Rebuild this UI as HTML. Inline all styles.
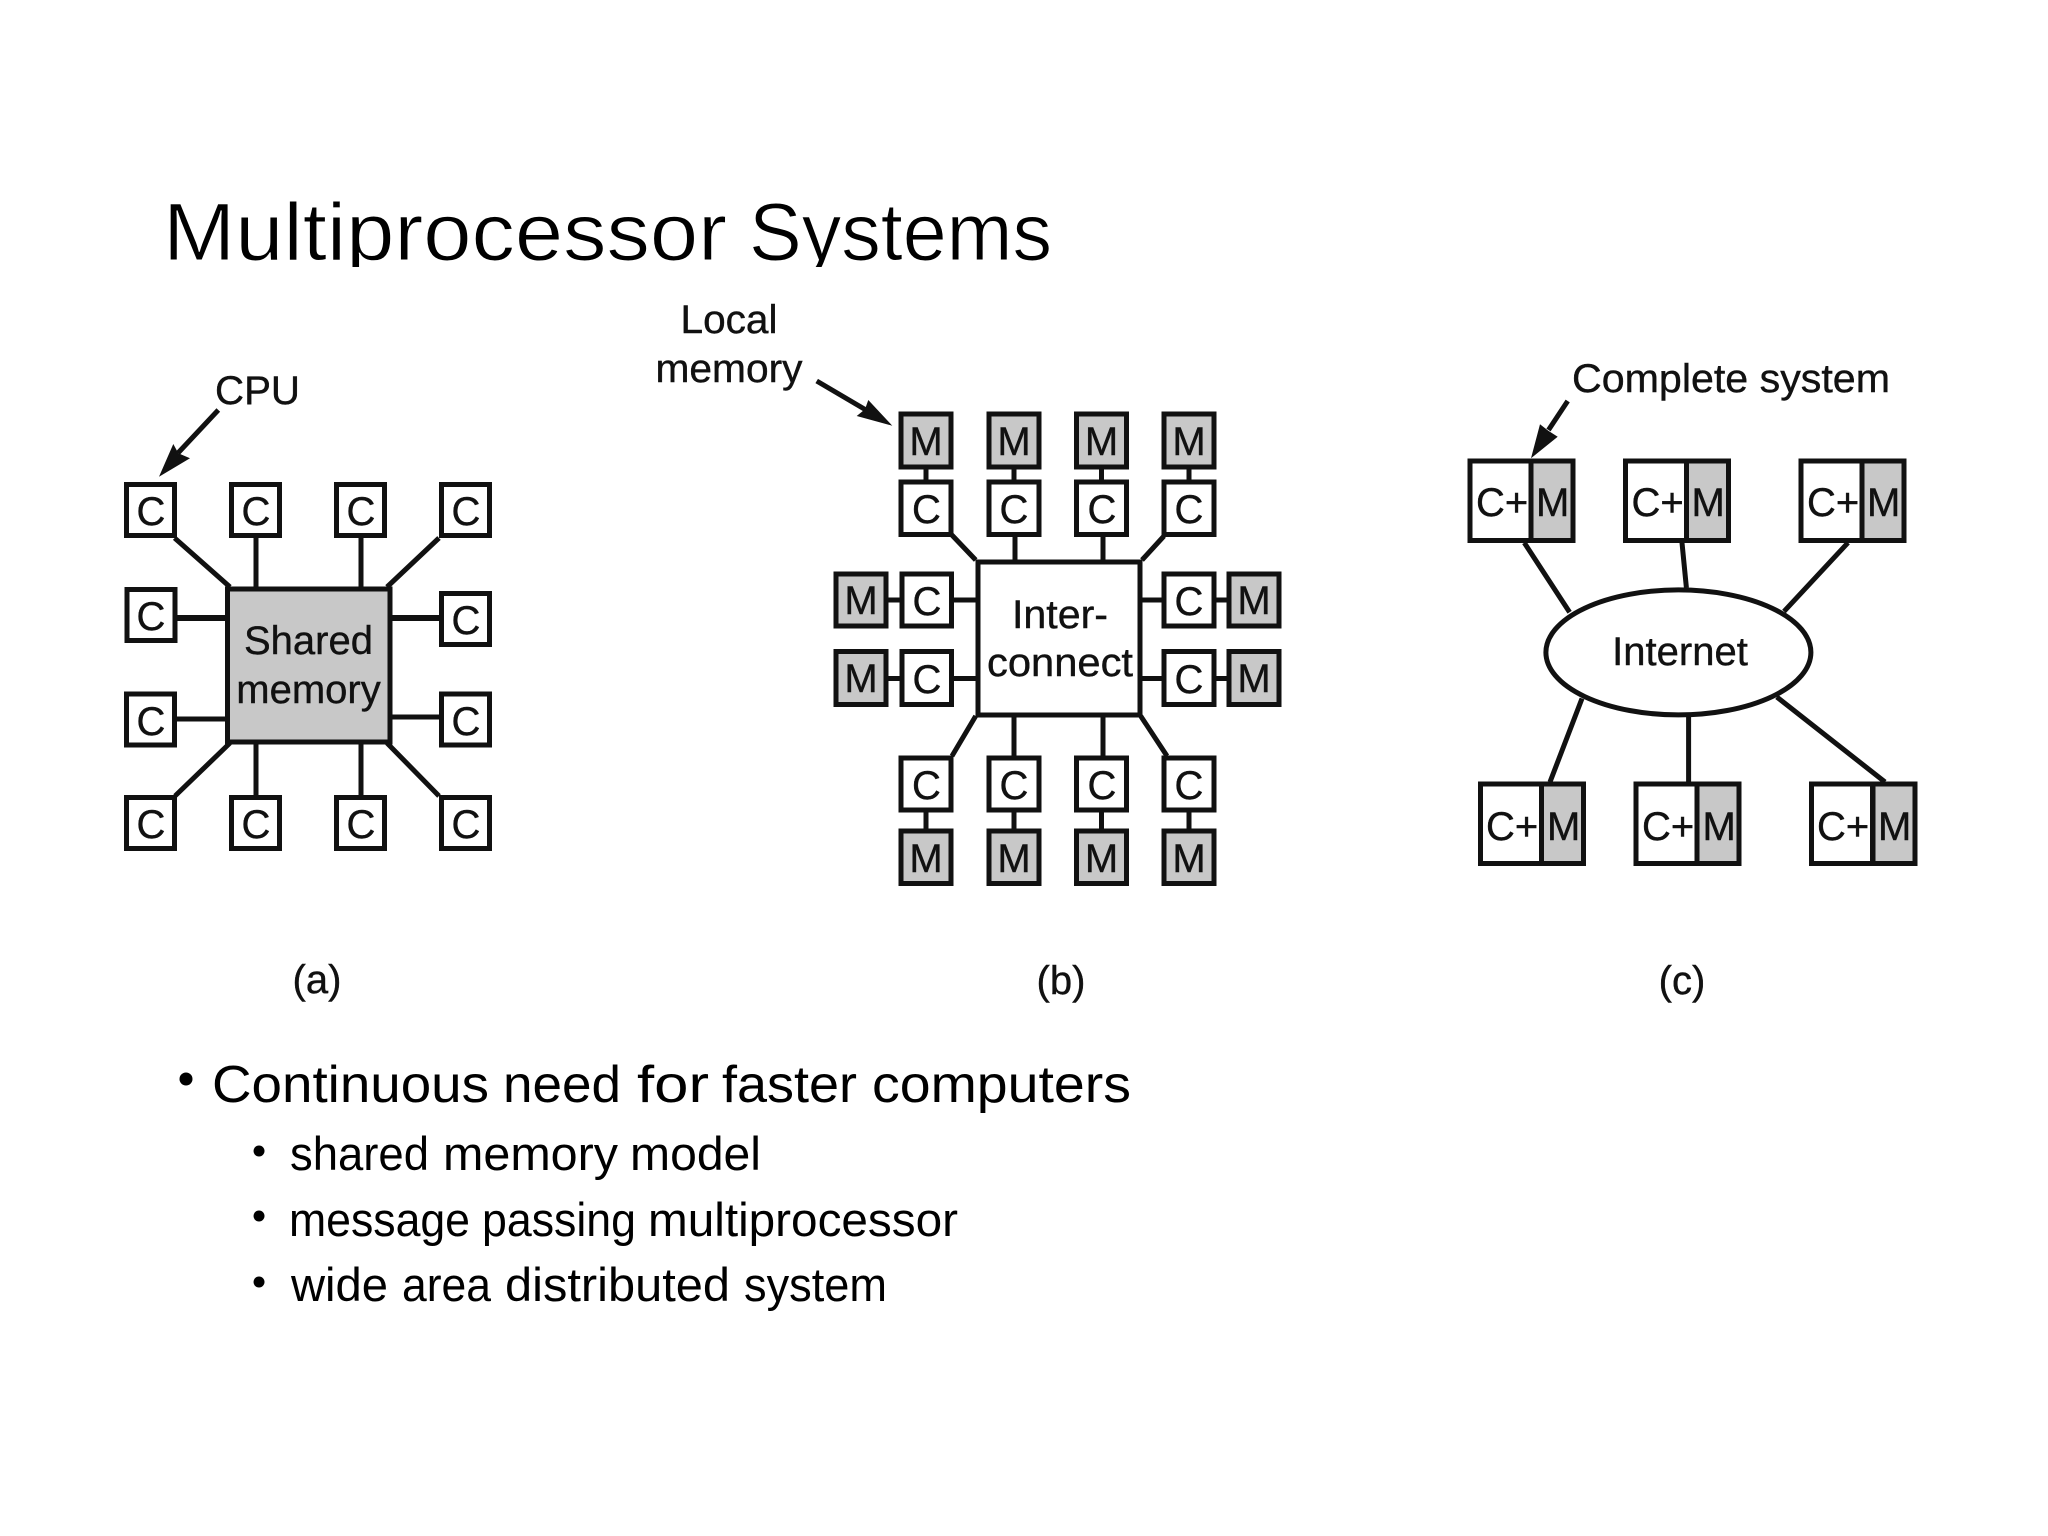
<!DOCTYPE html>
<html><head><meta charset="utf-8"><title>Multiprocessor Systems</title>
<style>
html,body{margin:0;padding:0;background:#fff;width:2048px;height:1536px;overflow:hidden}
svg{display:block}
text{font-family:"Liberation Sans",Arial,sans-serif;fill:#111}
.d text{font-size:40px;stroke:#111;stroke-width:.4}
.m{text-anchor:middle}
.w{fill:#fff;stroke:#111;stroke-width:5}
.g{fill:#c8c8c8;stroke:#111;stroke-width:5}
.l{stroke:#111;stroke-width:5;fill:none}
.t text{fill:#000}
.b1 text{font-size:52px;fill:#000}
.b2 text{font-size:47px;fill:#000}
</style></head><body>
<svg width="2048" height="1536" viewBox="0 0 2048 1536" xmlns="http://www.w3.org/2000/svg">
<rect width="2048" height="1536" fill="#fff"/>
<!-- Title -->
<g class="t" font-size="82" style="stroke:#fff;stroke-width:1">
<text x="163" y="260" textLength="564" lengthAdjust="spacingAndGlyphs">Multiprocessor</text>
<text x="749" y="260" textLength="303" lengthAdjust="spacingAndGlyphs">Systems</text>
</g>
<rect x="150" y="267" width="920" height="20" fill="#fff"/>

<g class="d">
<!-- Panel a connectors -->
<path class="l" d="M174.6 538L230 587M256 538V587M361 538V587M439 538L387 587M230 743L175 796M256 743V796M361 743V796M387 743L439 796M391 717H439M176 719H226"/>
<path class="l" style="stroke-width:6" d="M176 618H226M391 618H439"/>
<!-- Panel a boxes -->
<rect class="g" x="227.5" y="589" width="162.5" height="153"/>
<rect class="w" x="126.5" y="484.5" width="48" height="51"/><rect class="w" x="231.5" y="484.5" width="48" height="51"/><rect class="w" x="336.5" y="484.5" width="48" height="51"/><rect class="w" x="441.5" y="484.5" width="48" height="51"/>
<rect class="w" x="127" y="589.5" width="48" height="51"/><rect class="w" x="441.5" y="593.5" width="48" height="51"/>
<rect class="w" x="126.5" y="694" width="48" height="51"/><rect class="w" x="441.5" y="694" width="48" height="51"/>
<rect class="w" x="126.5" y="797.5" width="48" height="51"/><rect class="w" x="231.5" y="797.5" width="48" height="51"/><rect class="w" x="336.5" y="797.5" width="48" height="51"/><rect class="w" x="441.5" y="797.5" width="48" height="51"/>
<text class="m" x="151" y="525">C</text><text class="m" x="256" y="525">C</text><text class="m" x="361" y="525">C</text><text class="m" x="466" y="525">C</text>
<text class="m" x="151" y="630">C</text><text class="m" x="466" y="634">C</text>
<text class="m" x="151" y="735">C</text><text class="m" x="466" y="735">C</text>
<text class="m" x="151" y="838">C</text><text class="m" x="256" y="838">C</text><text class="m" x="361" y="838">C</text><text class="m" x="466" y="838">C</text>
<text class="m" x="308.5" y="654">Shared</text><text class="m" x="308.5" y="703">memory</text>
<text x="215" y="404" textLength="85" lengthAdjust="spacingAndGlyphs">CPU</text>
<path class="l" d="M218.3 410L178 453"/>
<polygon points="159,476.7 173.3,444 178.3,453.3 190,458.3" fill="#111"/>
<text class="m" x="317" y="993">(a)</text>

<!-- Panel b connectors -->
<path class="l" d="M926 469V480M1014 469V480M1101.5 469V480M1189 469V480M926 812V829M1014 812V829M1101.5 812V829M1189 812V829M951.4 534.5L975.7 560M1015 536V560M1103 536V560M1164 536L1142 560M975.7 716L952 756M1014 717V756M1103 717V756M1140.7 716L1167 756M953 600H976M953 678.5H976M1142 600H1162M1142 678.5H1162M888 600H900M888 678.5H900M1216 600H1227M1216 678.5H1227"/>
<!-- Panel b boxes -->
<rect class="w" x="978" y="562" width="162" height="153"/>
<rect class="g" x="901" y="414" width="50" height="53"/><rect class="g" x="989" y="414" width="50" height="53"/><rect class="g" x="1076.5" y="414" width="50" height="53"/><rect class="g" x="1164" y="414" width="50" height="53"/>
<rect class="w" x="901" y="482" width="50" height="52.5"/><rect class="w" x="989" y="482" width="50" height="52.5"/><rect class="w" x="1076.5" y="482" width="50" height="52.5"/><rect class="w" x="1164" y="482" width="50" height="52.5"/>
<rect class="w" x="901" y="758" width="50" height="52"/><rect class="w" x="989" y="758" width="50" height="52"/><rect class="w" x="1076.5" y="758" width="50" height="52"/><rect class="w" x="1164" y="758" width="50" height="52"/>
<rect class="g" x="901" y="831" width="50" height="52.5"/><rect class="g" x="989" y="831" width="50" height="52.5"/><rect class="g" x="1076.5" y="831" width="50" height="52.5"/><rect class="g" x="1164" y="831" width="50" height="52.5"/>
<rect class="g" x="836" y="574" width="50" height="52"/><rect class="w" x="902" y="574" width="49.5" height="52"/>
<rect class="g" x="836" y="651.5" width="50" height="53"/><rect class="w" x="902" y="651.5" width="49.5" height="53"/>
<rect class="w" x="1164" y="574" width="50" height="52"/><rect class="g" x="1229" y="574" width="50" height="52"/>
<rect class="w" x="1164" y="651.5" width="50" height="53"/><rect class="g" x="1229" y="651.5" width="50" height="53"/>
<text class="m" x="926" y="455">M</text><text class="m" x="1014" y="455">M</text><text class="m" x="1101.5" y="455">M</text><text class="m" x="1189" y="455">M</text>
<text class="m" x="926.5" y="523">C</text><text class="m" x="1014" y="523">C</text><text class="m" x="1102" y="523">C</text><text class="m" x="1189" y="523">C</text>
<text class="m" x="926.5" y="799">C</text><text class="m" x="1014" y="799">C</text><text class="m" x="1102" y="799">C</text><text class="m" x="1189" y="799">C</text>
<text class="m" x="926" y="872">M</text><text class="m" x="1014" y="872">M</text><text class="m" x="1101.5" y="872">M</text><text class="m" x="1189" y="872">M</text>
<text class="m" x="861" y="614">M</text><text class="m" x="927" y="615">C</text><text class="m" x="861" y="692">M</text><text class="m" x="927" y="693">C</text>
<text class="m" x="1189" y="615">C</text><text class="m" x="1254" y="614">M</text><text class="m" x="1189" y="693">C</text><text class="m" x="1254" y="692">M</text>
<text class="m" x="1060" y="628" textLength="96" lengthAdjust="spacingAndGlyphs">Inter-</text><text class="m" x="1060" y="676" textLength="146" lengthAdjust="spacingAndGlyphs">connect</text>
<text class="m" x="729" y="333" textLength="97" lengthAdjust="spacingAndGlyphs">Local</text><text class="m" x="729" y="382" textLength="147" lengthAdjust="spacingAndGlyphs">memory</text>
<path class="l" d="M816.7 381L866 410"/>
<polygon points="892.3,425.7 856.7,416 865,409.3 868.3,400" fill="#111"/>
<text class="m" x="1061" y="994">(b)</text>

<!-- Panel c connectors -->
<path class="l" d="M1524.3 542.7L1569.6 612.3M1682 542.7L1686.4 587.8M1848 542.7L1784 611.4M1582 698.5L1550 782M1688.6 717V782M1776.8 697L1885 782"/>
<ellipse cx="1678.4" cy="652.4" rx="132.5" ry="62.5" fill="#fff" stroke="#111" stroke-width="5"/>
<text class="m" x="1680" y="665">Internet</text>
<!-- Panel c boxes -->
<rect class="w" x="1470" y="461" width="61" height="79.5"/><rect class="g" x="1531" y="461" width="42" height="79.5"/>
<rect class="w" x="1625.5" y="461" width="61" height="79.5"/><rect class="g" x="1686.5" y="461" width="42" height="79.5"/>
<rect class="w" x="1801" y="461" width="61" height="79.5"/><rect class="g" x="1862" y="461" width="42" height="79.5"/>
<rect class="w" x="1480.5" y="784" width="61" height="79.5"/><rect class="g" x="1541.5" y="784" width="42" height="79.5"/>
<rect class="w" x="1636" y="784" width="61" height="79.5"/><rect class="g" x="1697" y="784" width="42" height="79.5"/>
<rect class="w" x="1811.5" y="784" width="61" height="79.5"/><rect class="g" x="1873" y="784" width="42" height="79.5"/>
<text x="1476" y="516">C+</text><text x="1536" y="516">M</text>
<text x="1631.5" y="516">C+</text><text x="1691.5" y="516">M</text>
<text x="1807" y="516">C+</text><text x="1867" y="516">M</text>
<text x="1486" y="840">C+</text><text x="1547" y="840">M</text>
<text x="1642" y="840">C+</text><text x="1702.5" y="840">M</text>
<text x="1817" y="840">C+</text><text x="1878" y="840">M</text>
<text x="1572" y="392" textLength="318" lengthAdjust="spacingAndGlyphs">Complete system</text>
<path class="l" d="M1567.7 401L1548.5 430"/>
<polygon points="1531,458.3 1540,424.3 1548.3,430.7 1557.7,436.7" fill="#111"/>
<text class="m" x="1682" y="994">(c)</text>
</g>

<!-- Bullets -->
<circle cx="186" cy="1079" r="6.5" fill="#000"/>
<g class="b1">
<text x="212" y="1102" textLength="277" lengthAdjust="spacingAndGlyphs">Continuous</text>
<text x="503" y="1102" textLength="118" lengthAdjust="spacingAndGlyphs">need</text>
<text x="637" y="1102" textLength="72" lengthAdjust="spacingAndGlyphs">for</text>
<text x="722" y="1102" textLength="135" lengthAdjust="spacingAndGlyphs">faster</text>
<text x="872" y="1102" textLength="259" lengthAdjust="spacingAndGlyphs">computers</text>
</g>
<circle cx="259" cy="1151" r="5.5" fill="#000"/>
<circle cx="259" cy="1216" r="5.5" fill="#000"/>
<circle cx="259" cy="1282" r="5.5" fill="#000"/>
<g class="b2">
<text x="290" y="1170" textLength="139" lengthAdjust="spacingAndGlyphs">shared</text>
<text x="443" y="1170" textLength="175" lengthAdjust="spacingAndGlyphs">memory</text>
<text x="630" y="1170" textLength="131" lengthAdjust="spacingAndGlyphs">model</text>
<text x="289" y="1236" textLength="181" lengthAdjust="spacingAndGlyphs">message</text>
<text x="482" y="1236" textLength="154" lengthAdjust="spacingAndGlyphs">passing</text>
<text x="648" y="1236" textLength="310" lengthAdjust="spacingAndGlyphs">multiprocessor</text>
<text x="291" y="1301" textLength="97" lengthAdjust="spacingAndGlyphs">wide</text>
<text x="402" y="1301" textLength="89" lengthAdjust="spacingAndGlyphs">area</text>
<text x="505" y="1301" textLength="225" lengthAdjust="spacingAndGlyphs">distributed</text>
<text x="744" y="1301" textLength="143" lengthAdjust="spacingAndGlyphs">system</text>
</g>
</svg>
</body></html>
